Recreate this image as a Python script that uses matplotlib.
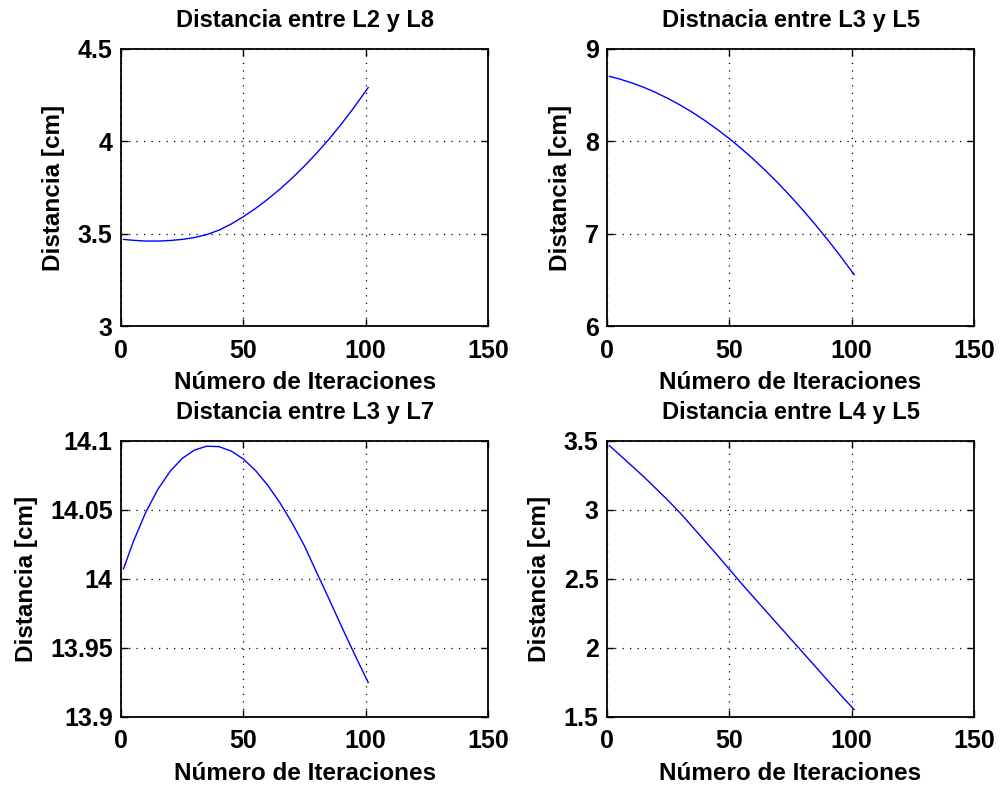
import matplotlib
matplotlib.use("Agg")
import matplotlib.pyplot as plt

# -----------------------------
# Datos
# -----------------------------
iteraciones = [1, 5, 10, 15, 20, 25, 30, 35, 40, 45, 50, 55, 60, 65, 70, 75, 80, 85, 90, 95, 101]

d_L2_L8 = [3.469, 3.464, 3.460, 3.460, 3.463, 3.469, 3.479, 3.495, 3.519, 3.552, 3.592,
           3.637, 3.687, 3.742, 3.802, 3.867, 3.937, 4.012, 4.093, 4.180, 4.291]
d_L3_L5 = [8.704, 8.676, 8.634, 8.585, 8.528, 8.463, 8.391, 8.312, 8.225, 8.130, 8.029,
           7.919, 7.802, 7.677, 7.545, 7.405, 7.257, 7.102, 6.940, 6.770, 6.557]
d_L3_L7 = [14.0073, 14.0270, 14.0479, 14.0648, 14.0779, 14.0874, 14.0934, 14.0962, 14.0959,
           14.0927, 14.0869, 14.0785, 14.0678, 14.0550, 14.0403, 14.0238, 14.0045, 13.9855,
           13.9660, 13.9470, 13.9250]
d_L4_L5 = [3.466, 3.402, 3.322, 3.241, 3.155, 3.068, 2.976, 2.876, 2.775, 2.674, 2.570,
           2.466, 2.366, 2.266, 2.167, 2.067, 1.968, 1.868, 1.768, 1.669, 1.553]

titulos = ["Distancia entre L2 y L8", "Distnacia entre L3 y L5",
           "Distancia entre L3 y L7", "Distancia entre L4 y L5"]
ylims = [(3, 4.5), (6, 9), (13.9, 14.1), (1.5, 3.5)]
yticks = [[3, 3.5, 4, 4.5], [6, 7, 8, 9],
          [13.9, 13.95, 14, 14.05, 14.1], [1.5, 2, 2.5, 3, 3.5]]
yticklabels = [["3", "3.5", "4", "4.5"], ["6", "7", "8", "9"],
               ["13.9", "13.95", "14", "14.05", "14.1"], ["1.5", "2", "2.5", "3", "3.5"]]
xticks = [0, 50, 100, 150]

series = [d_L2_L8, d_L3_L5, d_L3_L7, d_L4_L5]

# -----------------------------
# Estilo tipo MATLAB
# -----------------------------
plt.rcParams['font.family'] = ['Liberation Sans', 'DejaVu Sans']
plt.rcParams['font.weight'] = 'bold'

fig = plt.figure(figsize=(10.07, 7.89), dpi=100)
posiciones = [
    [0.1202, 0.5868, 0.3645, 0.3511],
    [0.6028, 0.5868, 0.3645, 0.3511],
    [0.1202, 0.0913, 0.3645, 0.3498],
    [0.6028, 0.0913, 0.3645, 0.3498],
]

for k in range(4):
    ax = fig.add_axes(posiciones[k])
    ax.plot(iteraciones, series[k], color=(0, 0, 1), linewidth=1.0)
    ax.set_xlim(0, 150)
    ax.set_ylim(*ylims[k])
    ax.set_xticks(xticks)
    ax.set_xticklabels([str(t) for t in xticks])
    ax.set_yticks(yticks[k])
    ax.set_yticklabels(yticklabels[k])
    ax.grid(True, linestyle=(0, (1, 5)), color='black', linewidth=0.9)
    ax.tick_params(direction='in', top=True, right=True, length=5, width=1,
                   labelsize=18)
    ax.tick_params(axis='x', pad=9)
    ax.tick_params(axis='y', pad=6)
    for lab in ax.get_xticklabels() + ax.get_yticklabels():
        lab.set_fontweight('bold')
    for sp in ax.spines.values():
        sp.set_linewidth(1.3)
    ax.set_title(titulos[k], fontsize=17, fontweight='bold', pad=16)
    ax.set_xlabel("Número de Iteraciones", fontsize=17.5, fontweight='bold', labelpad=6)
    ax.set_ylabel("Distancia [cm]", fontsize=17.5, fontweight='bold', labelpad=9)

fig.savefig("out.png", dpi=100)
